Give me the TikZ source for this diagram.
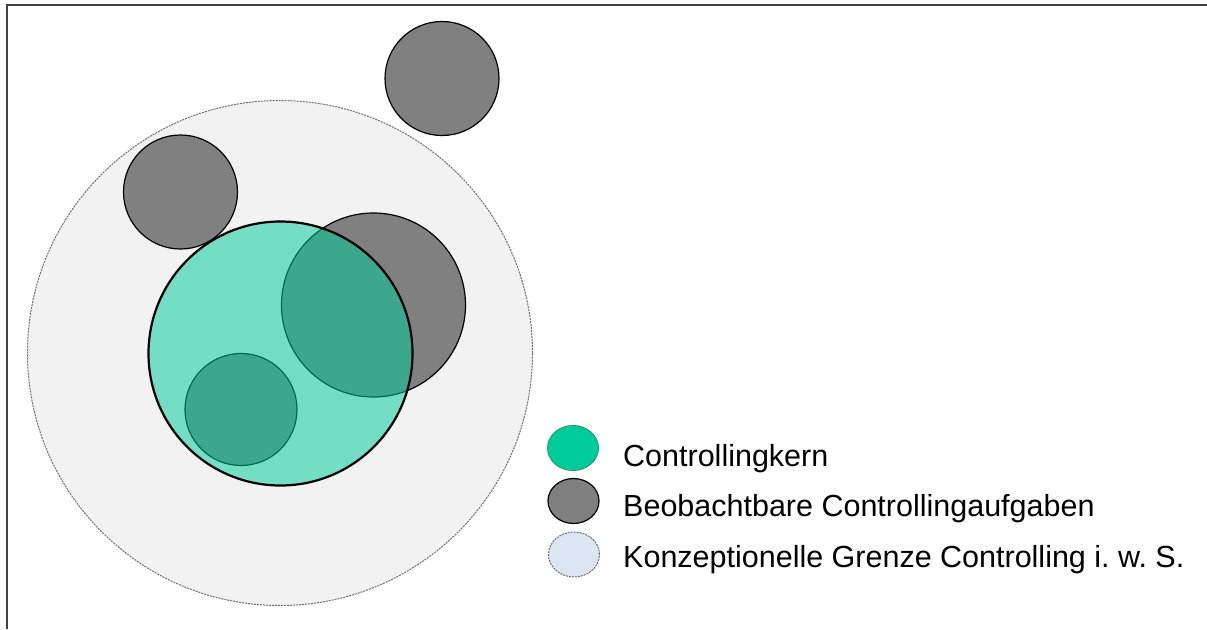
\documentclass[tikz,border=0pt]{standalone}
\usepackage{fontspec}
\setmainfont{Liberation Sans}
\usetikzlibrary{shapes.geometric}
\definecolor{kern}{RGB}{0,204,153}
\definecolor{kernline}{RGB}{30,160,120}
\definecolor{taskgray}{RGB}{128,128,128}
\definecolor{bound}{RGB}{242,242,242}
\definecolor{boundleg}{RGB}{220,230,242}
\definecolor{frameline}{RGB}{64,64,64}
\definecolor{dashline}{RGB}{110,110,110}
\tikzset{
  disc/.style={circle, inner sep=0pt, outer sep=0pt, minimum size=#1},
  boundary/.style={fill=bound, draw=dashline, line width=1pt, dash pattern=on 2pt off 1pt},
  task/.style={fill=taskgray, draw=black, line width=1.2pt},
  core/.style={fill=kern, fill opacity=0.52, draw=black, draw opacity=1, line width=2.2pt},
  legdot/.style={ellipse, inner sep=0pt, minimum width=51pt, minimum height=45pt},
  legtext/.style={anchor=base west, inner sep=0pt, font=\fontsize{30.5}{36}\selectfont}
}
\begin{document}
\begin{tikzpicture}[x=1pt, y=-1pt]
\useasboundingbox (0,0) rectangle (1207,629);
\fill[white] (0,0) rectangle (1207,629);
% frame
\coordinate (fbl) at (6.5,629);
\coordinate (ftl) at (6.5,5);
\coordinate (ftr) at (1207,5);
\draw[frameline, line width=2pt] (fbl) -- (ftl) -- (ftr);
% circles
\node[disc=505pt, boundary] (grenze) at (280,353) {};
\node[disc=114pt, task] (aufg1) at (442,78.5) {};
\node[disc=114pt, task] (aufg2) at (180.5,192) {};
\node[disc=184pt, task] (aufg3) at (373.5,305) {};
\node[disc=112pt, task] (aufg4) at (241,409.5) {};
\node[disc=264pt, core] (kern) at (280.5,353.5) {};
% legend
\node[legdot, fill=kern, draw=kernline, line width=1pt] (lk) at (573,448) {};
\node[legdot, fill=taskgray, draw=black, line width=1.2pt] (la) at (573.5,501) {};
\node[legdot, fill=boundleg, draw=dashline, line width=1pt, dash pattern=on 2pt off 1pt] (lg) at (574,554.5) {};
\node[legtext] (tk) at (623,466) {Controllingkern};
\node[legtext] (ta) at (623,516) {Beobachtbare Controllingaufgaben};
\node[legtext] (tg) at (623,567) {Konzeptionelle Grenze Controlling i.\ w.\ S.};
\end{tikzpicture}
\end{document}
